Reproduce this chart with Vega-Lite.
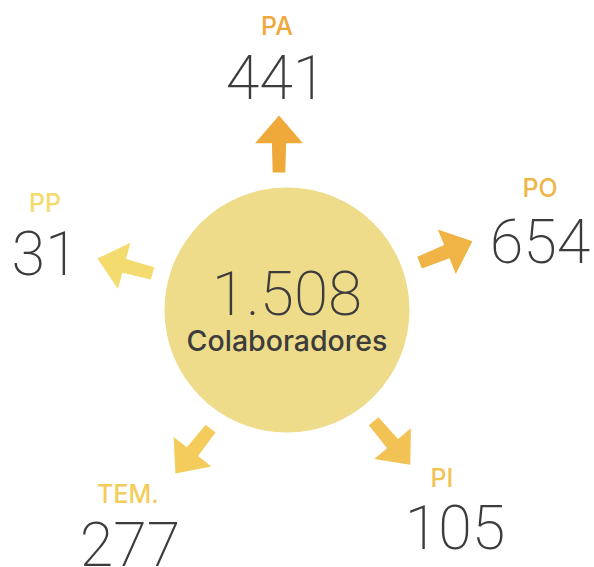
{
  "$schema": "https://vega.github.io/schema/vega-lite/v6.json",
  "width": 594,
  "height": 567,
  "padding": 0,
  "autosize": {"type": "none"},
  "background": "white",
  "config": {
    "view": {"stroke": null},
    "locale": {"number": {"decimal": ",", "thousands": ".", "grouping": [3], "currency": ["", "€"]}}
  },
  "datasets": {
    "groups": [
      {"cat": "PA", "count": 441, "ax": 279, "ay": 144, "dir": 0, "lx": 277, "ly": 35, "nx": 276, "ny": 99},
      {"cat": "PO", "count": 654, "ax": 446, "ay": 252, "dir": 68, "lx": 540, "ly": 197, "nx": 540, "ny": 263},
      {"cat": "PI", "count": 105, "ax": 392, "ay": 443, "dir": 140, "lx": 442, "ly": 487, "nx": 455, "ny": 549},
      {"cat": "TEM.", "count": 277, "ax": 193, "ay": 451, "dir": 218, "lx": 128, "ly": 503, "nx": 130, "ny": 566},
      {"cat": "PP", "count": 31, "ax": 125, "ay": 266, "dir": 285, "lx": 45, "ly": 212, "nx": 45, "ny": 275}
    ],
    "center": [{"x": 287, "y": 310, "ty": 315, "cy": 351, "total": 1508, "label": "Colaboradores"}]
  },
  "layer": [
    {
      "data": {"name": "center"},
      "mark": {"type": "point", "shape": "circle", "filled": true, "opacity": 1, "color": "#EEDC8A", "size": 60025},
      "encoding": {
        "x": {"field": "x", "type": "quantitative", "scale": {"domain": [0, 594], "nice": false, "zero": false}, "axis": null},
        "y": {"field": "y", "type": "quantitative", "scale": {"domain": [0, 567], "nice": false, "zero": false, "reverse": true}, "axis": null}
      }
    },
    {
      "data": {"name": "groups"},
      "mark": {"type": "point", "filled": true, "opacity": 1, "size": 3249,
        "shape": "M0,-1 L0.84,-0.03 L0.25,-0.03 L0.22,1 L-0.22,1 L-0.25,-0.03 L-0.84,-0.03 Z"},
      "encoding": {
        "x": {"field": "ax", "type": "quantitative"},
        "y": {"field": "ay", "type": "quantitative"},
        "angle": {"field": "dir", "type": "quantitative", "scale": null},
        "color": {"field": "cat", "type": "nominal", "scale": {"domain": ["PA", "PO", "PI", "TEM.", "PP"], "range": ["#EFA93B", "#F0B446", "#F2C354", "#F3CC5B", "#F4DB6E"]}, "legend": null}
      }
    },
    {
      "data": {"name": "groups"},
      "mark": {"type": "text", "font": "Inter", "fontWeight": 500, "fontSize": 25, "baseline": "alphabetic", "align": "center"},
      "encoding": {
        "x": {"field": "lx", "type": "quantitative"},
        "y": {"field": "ly", "type": "quantitative"},
        "text": {"field": "cat", "type": "nominal"},
        "color": {"field": "cat", "type": "nominal", "legend": null}
      }
    },
    {
      "data": {"name": "groups"},
      "mark": {"type": "text", "font": "Roboto", "fontWeight": 200, "fontSize": 61, "baseline": "alphabetic", "align": "center", "color": "#3C3C3C"},
      "encoding": {
        "x": {"field": "nx", "type": "quantitative"},
        "y": {"field": "ny", "type": "quantitative"},
        "text": {"field": "count", "type": "quantitative", "format": "d"}
      }
    },
    {
      "data": {"name": "center"},
      "mark": {"type": "text", "font": "Roboto", "fontWeight": 200, "fontSize": 62, "baseline": "alphabetic", "align": "center", "color": "#3C3C3C"},
      "encoding": {
        "x": {"field": "x", "type": "quantitative"},
        "y": {"field": "ty", "type": "quantitative"},
        "text": {"field": "total", "type": "quantitative", "format": ",d"}
      }
    },
    {
      "data": {"name": "center"},
      "mark": {"type": "text", "font": "Inter", "fontWeight": 500, "fontSize": 28.5, "baseline": "alphabetic", "align": "center", "color": "#3C3C3C"},
      "encoding": {
        "x": {"field": "x", "type": "quantitative"},
        "y": {"field": "cy", "type": "quantitative"},
        "text": {"field": "label", "type": "nominal"}
      }
    }
  ]
}
